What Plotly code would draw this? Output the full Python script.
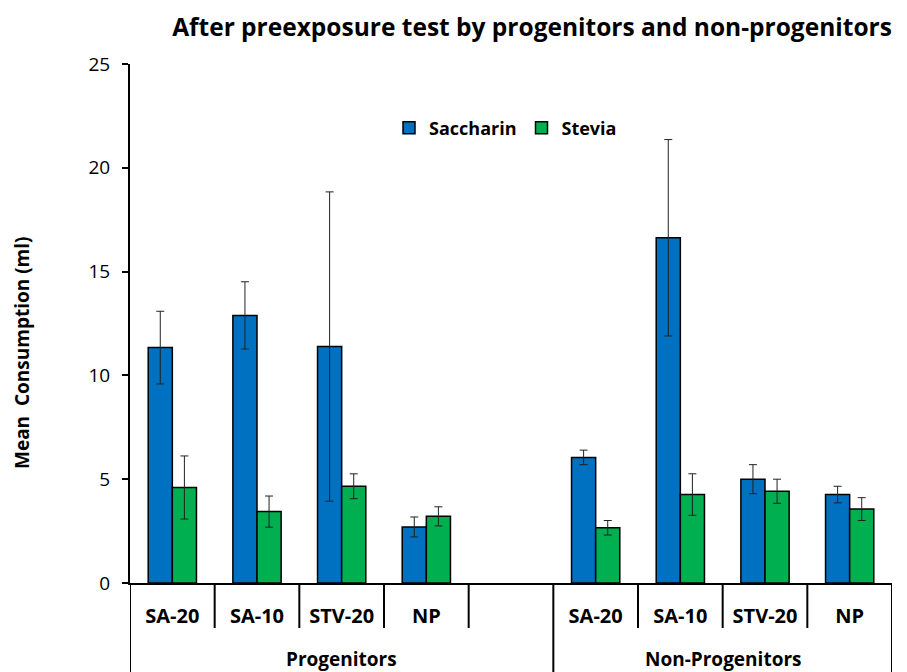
import plotly.graph_objects as go

groups = ["Progenitors", "Non-Progenitors"]
group_sizes = [5, 4]
conditions = ["SA-20", "SA-10", "STV-20", "NP", "", "SA-20", "SA-10", "STV-20", "NP"]
keys = ["P_SA-20", "P_SA-10", "P_STV-20", "P_NP", "P_gap",
        "N_SA-20", "N_SA-10", "N_STV-20", "N_NP"]

saccharin = [11.34, 12.89, 11.39, 2.70, None, 6.05, 16.63, 5.00, 4.26]
saccharin_err = [1.75, 1.62, 7.45, 0.48, None, 0.35, 4.73, 0.70, 0.40]
stevia = [4.60, 3.44, 4.66, 3.21, None, 2.66, 4.26, 4.42, 3.56]
stevia_err = [1.52, 0.75, 0.60, 0.46, None, 0.35, 1.00, 0.58, 0.55]

FONT = "Open Sans"

# page body has an 8px margin, so the figure is drawn 8px smaller and offset
W, H = 899, 664
L, R, T, B = 122, 15, 56, 89
H_PLOT = H - T - B
W_PLOT = W - L - R

fig = go.Figure()
fig.add_trace(go.Bar(
    name="<b>Saccharin</b>", x=keys, y=saccharin,
    marker=dict(color="#0070C0", line=dict(color="black", width=1.5)),
    error_y=dict(type="data", array=saccharin_err, visible=True,
                 color="#222222", thickness=1, width=4),
))
fig.add_trace(go.Bar(
    name="<b>Stevia</b>", x=keys, y=stevia,
    marker=dict(color="#00B050", line=dict(color="black", width=1.5)),
    error_y=dict(type="data", array=stevia_err, visible=True,
                 color="#222222", thickness=1, width=4),
))

shapes = []
for i in range(len(keys) - 1):
    if i + 1 == group_sizes[0]:
        continue
    shapes.append(dict(type="line", xref="x", yref="paper",
                       x0=i + 0.5, x1=i + 0.5, y0=0, y1=-45 / H_PLOT,
                       line=dict(color="black", width=2)))
edges = [-0.5, group_sizes[0] - 0.5, sum(group_sizes) - 0.5]
for e in edges:
    shapes.append(dict(type="line", xref="x", yref="paper",
                       x0=e, x1=e, y0=0, y1=-95 / H_PLOT,
                       line=dict(color="black", width=2)))

annotations = []
start = 0
for g, n in zip(groups, group_sizes):
    center = start + (n - 1) / 2
    annotations.append(dict(text="<b>%s</b>" % g, xref="x", yref="paper",
                            x=center, y=-76 / H_PLOT, showarrow=False,
                            xanchor="center", yanchor="middle",
                            font=dict(family=FONT, size=19, color="black")))
    start += n
annotations.append(dict(text="<b>Mean  Consumption (ml)</b>", xref="paper", yref="paper",
                        x=(14 - L) / W_PLOT, y=(T + H_PLOT - 345) / H_PLOT, textangle=-90,
                        showarrow=False, xanchor="center", yanchor="middle",
                        font=dict(family=FONT, size=19, color="black")))

fig.update_layout(
    width=W, height=H,
    paper_bgcolor="white", plot_bgcolor="white",
    margin=dict(l=L, r=R, t=T, b=B, autoexpand=False),
    barmode="group", bargap=0.43, bargroupgap=0,
    font=dict(family=FONT, color="black", size=16),
    title=dict(text="<b>After preexposure test by progenitors and non-progenitors</b>",
               x=524 / W, xanchor="center", y=1 - 19 / H, yanchor="middle",
               font=dict(family=FONT, size=24.5, color="black")),
    legend=dict(orientation="h", x=(381 - L) / W_PLOT, y=(T + H_PLOT - 120) / H_PLOT,
                xanchor="left", yanchor="middle",
                font=dict(family=FONT, size=18, color="black"),
                bgcolor="rgba(0,0,0,0)"),
    showlegend=True,
    shapes=shapes,
    annotations=annotations,
)
fig.update_yaxes(
    range=[0, 25], tickvals=[0, 5, 10, 15, 20, 25],
    showline=True, linecolor="black", linewidth=2,
    ticks="outside", ticklen=6, tickwidth=2, tickcolor="black",
    ticklabelstandoff=8,
    showgrid=False, zeroline=False, automargin=False,
    tickfont=dict(family=FONT, size=19, color="black"),
)
fig.update_xaxes(
    type="category", categoryorder="array", categoryarray=keys,
    range=[-0.5, len(keys) - 0.5],
    tickvals=keys, ticktext=["<b>%s</b>" % c if c else "" for c in conditions],
    showline=True, linecolor="black", linewidth=2,
    ticks="", ticklabelstandoff=14,
    showgrid=False, automargin=False,
    tickfont=dict(family=FONT, size=20, color="black"),
)

fig.write_html("out.html")
